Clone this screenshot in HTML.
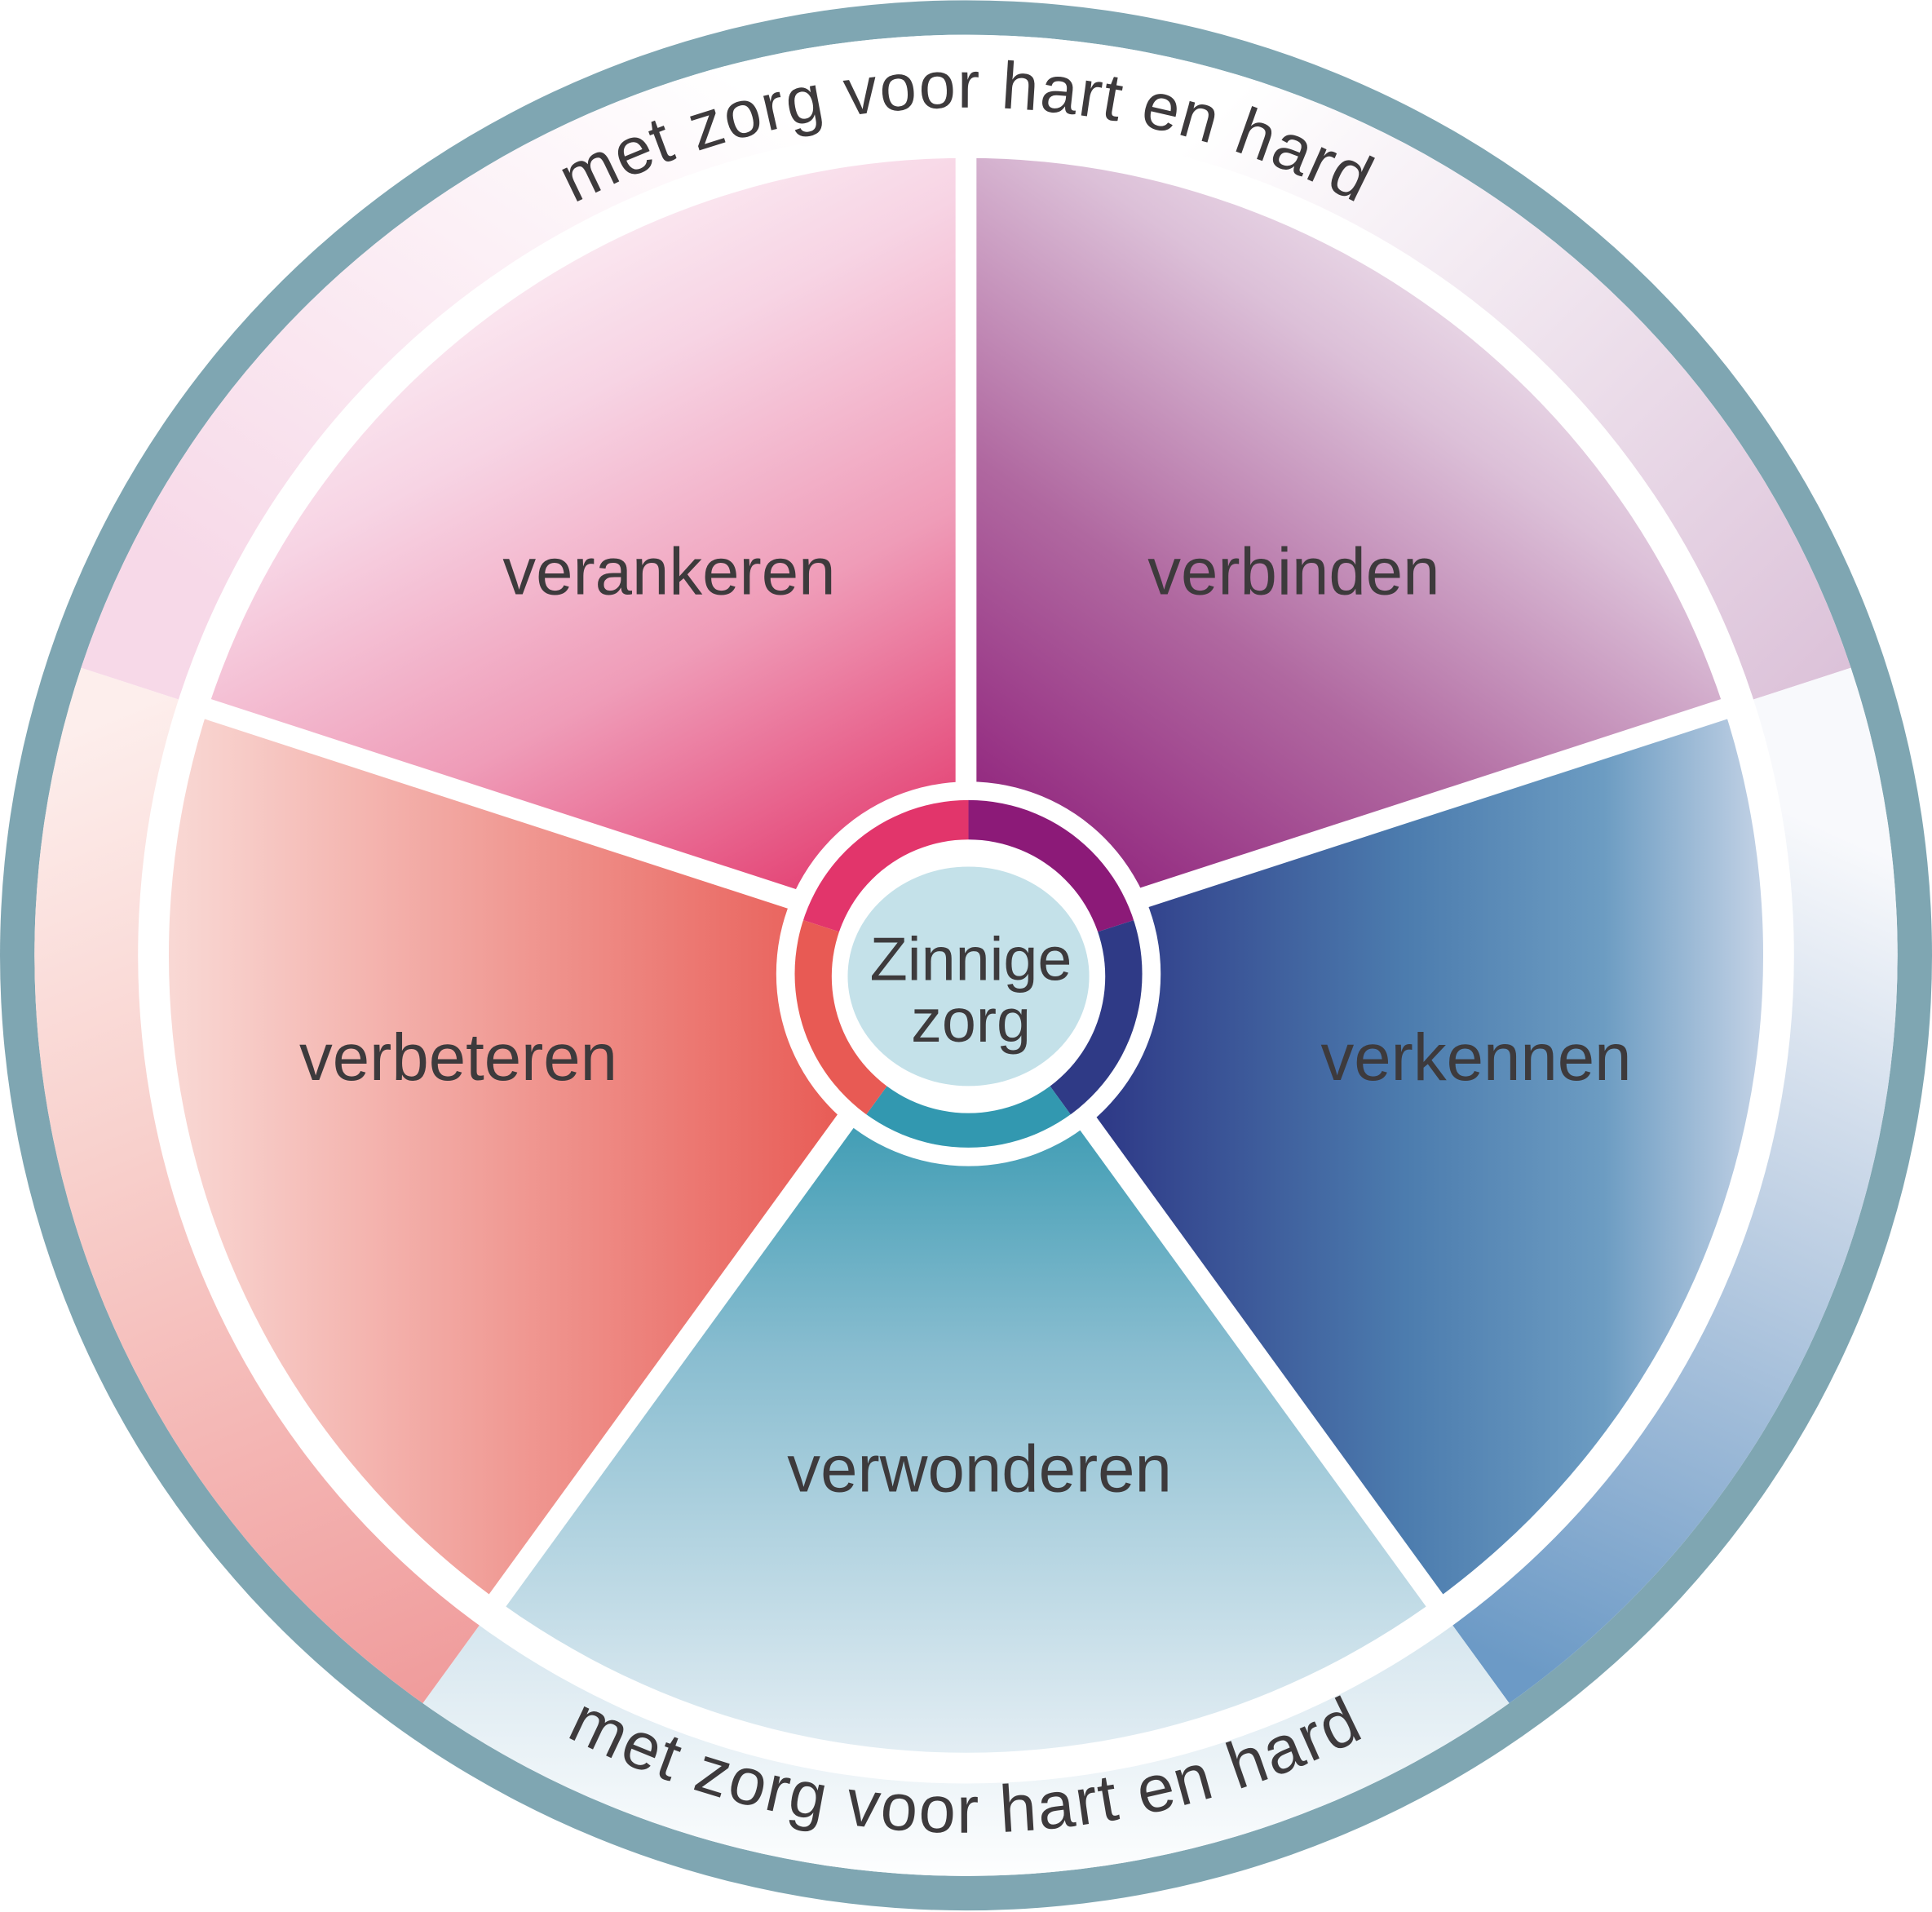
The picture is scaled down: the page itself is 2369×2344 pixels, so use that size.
<!DOCTYPE html>
<html><head><meta charset="utf-8"><style>html,body{margin:0;padding:0;background:#fff;overflow:hidden}svg{display:block}</style></head>
<body>
<svg xmlns="http://www.w3.org/2000/svg" width="2369" height="2344" viewBox="0 0 1568 1551">
<defs>
<clipPath id="cOut"><ellipse cx="784" cy="775" rx="756" ry="747"/></clipPath>
<clipPath id="cIn"><circle cx="784" cy="775" r="647"/></clipPath>
<clipPath id="cHub"><circle cx="786" cy="790" r="141"/></clipPath>
<linearGradient id="iTL" gradientUnits="userSpaceOnUse" x1="720" y1="730" x2="420" y2="170"><stop offset="0" stop-color="#e2366b"/><stop offset="0.4" stop-color="#ef9cb8"/><stop offset="0.75" stop-color="#f7d4e4"/><stop offset="1" stop-color="#fcf0f6"/></linearGradient>
<linearGradient id="iTR" gradientUnits="userSpaceOnUse" x1="820" y1="730" x2="1220" y2="170"><stop offset="0" stop-color="#8c1a78"/><stop offset="0.4" stop-color="#b068a0"/><stop offset="0.75" stop-color="#dcc0d8"/><stop offset="1" stop-color="#f4ecf3"/></linearGradient>
<linearGradient id="iR" gradientUnits="userSpaceOnUse" x1="900" y1="0" x2="1435" y2="0"><stop offset="0" stop-color="#2f3b88"/><stop offset="0.45" stop-color="#4c7cae"/><stop offset="0.75" stop-color="#6c9cc2"/><stop offset="1" stop-color="#c6d4e7"/></linearGradient>
<linearGradient id="iB" gradientUnits="userSpaceOnUse" x1="0" y1="880" x2="0" y2="1425"><stop offset="0" stop-color="#3598b0"/><stop offset="0.4" stop-color="#89bdd0"/><stop offset="1" stop-color="#e4eef4"/></linearGradient>
<linearGradient id="iL" gradientUnits="userSpaceOnUse" x1="140" y1="0" x2="690" y2="0"><stop offset="0" stop-color="#f9d8d4"/><stop offset="0.5" stop-color="#f09a94"/><stop offset="1" stop-color="#e85a54"/></linearGradient>
<linearGradient id="oTL" gradientUnits="userSpaceOnUse" x1="300" y1="560" x2="620" y2="80"><stop offset="0" stop-color="#f7d9e8"/><stop offset="1" stop-color="#ffffff"/></linearGradient>
<linearGradient id="oTR" gradientUnits="userSpaceOnUse" x1="1480" y1="560" x2="1000" y2="80"><stop offset="0" stop-color="#dcc2d9"/><stop offset="1" stop-color="#ffffff"/></linearGradient>
<linearGradient id="oR" gradientUnits="userSpaceOnUse" x1="1545" y1="700" x2="1250" y2="1360"><stop offset="0" stop-color="#f8f9fc"/><stop offset="0.4" stop-color="#c2d2e5"/><stop offset="1" stop-color="#6c9ac6"/></linearGradient>
<linearGradient id="oB" gradientUnits="userSpaceOnUse" x1="0" y1="1310" x2="0" y2="1530"><stop offset="0" stop-color="#d4e5ee"/><stop offset="1" stop-color="#ffffff"/></linearGradient>
<linearGradient id="oL" gradientUnits="userSpaceOnUse" x1="40" y1="600" x2="360" y2="1370"><stop offset="0" stop-color="#fdeeec"/><stop offset="0.4" stop-color="#f8d0cc"/><stop offset="1" stop-color="#f09c9c"/></linearGradient>
<path id="topArc" d="M137.5,539.7 A688,688 0 0 1 1430.5,539.7"/>
<path id="botArc" d="M115,1018.5 A712,712 0 0 0 1453,1018.5"/>
</defs>

<ellipse cx="784" cy="775" rx="784" ry="775" fill="#7fa6b2"/>
<ellipse cx="784" cy="775" rx="756" ry="747" fill="#fff"/>
<g clip-path="url(#cOut)">
<polygon points="784,775 -642.6,311.5 784,-725" fill="url(#oTL)"/>
<polygon points="784,775 784,-725 2210.6,311.5" fill="url(#oTR)"/>
<polygon points="784,775 2210.6,311.5 1665.7,1988.5" fill="url(#oR)"/>
<polygon points="784,775 1665.7,1988.5 -97.7,1988.5" fill="url(#oB)"/>
<polygon points="784,775 -97.7,1988.5 -642.6,311.5" fill="url(#oL)"/>
</g>
<circle cx="784" cy="775" r="672" fill="#fff"/>
<g clip-path="url(#cIn)">
<polygon points="784,775 -642.6,311.5 784,-725" fill="url(#iTL)"/>
<polygon points="784,775 784,-725 2210.6,311.5" fill="url(#iTR)"/>
<polygon points="784,775 2210.6,311.5 1665.7,1988.5" fill="url(#iR)"/>
<polygon points="784,775 1665.7,1988.5 -97.7,1988.5" fill="url(#iB)"/>
<polygon points="784,775 -97.7,1988.5 -642.6,311.5" fill="url(#iL)"/>
</g>
<g stroke="#fff" stroke-width="17">
<line x1="784" y1="775" x2="784" y2="115"/>
<line x1="784" y1="775" x2="1411.7" y2="571.1"/>
<line x1="784" y1="775" x2="1171.9" y2="1308.9"/>
<line x1="784" y1="775" x2="396.1" y2="1308.9"/>
<line x1="784" y1="775" x2="156.3" y2="571.1"/>
</g>

<circle cx="786" cy="790" r="156" fill="#fff"/>
<g clip-path="url(#cHub)">
<polygon points="786,790 -640.6,326.5 786,-710" fill="#e2356b"/>
<polygon points="786,790 786,-710 2212.6,326.5" fill="#8c1a78"/>
<polygon points="786,790 2212.6,326.5 1667.7,2003.5" fill="#2f3a86"/>
<polygon points="786,790 1667.7,2003.5 -95.7,2003.5" fill="#3298b0"/>
<polygon points="786,790 -95.7,2003.5 -640.6,326.5" fill="#e85a54"/>
</g>
<circle cx="786" cy="792" r="111" fill="#fff"/>
<ellipse cx="786" cy="792" rx="98" ry="89" fill="#c4e1e9"/>

<g font-family="Liberation Sans, sans-serif" fill="#3d3a3c" text-anchor="middle" font-size="54">
<text x="543" y="482">verankeren</text>
<text x="1050" y="482">verbinden</text>
<text x="372" y="876">verbeteren</text>
<text x="1198" y="876">verkennen</text>
<text x="795" y="1210">verwonderen</text>
<text x="788" y="795" font-size="50">Zinnige</text>
<text x="788" y="845" font-size="50">zorg</text>
<text font-size="54" letter-spacing="1"><textPath href="#topArc" startOffset="50%">met zorg voor hart en hard</textPath></text>
<text font-size="54" letter-spacing="1.5"><textPath href="#botArc" startOffset="50%">met zorg voor hart en hard</textPath></text>
</g>
</svg>
</body></html>
